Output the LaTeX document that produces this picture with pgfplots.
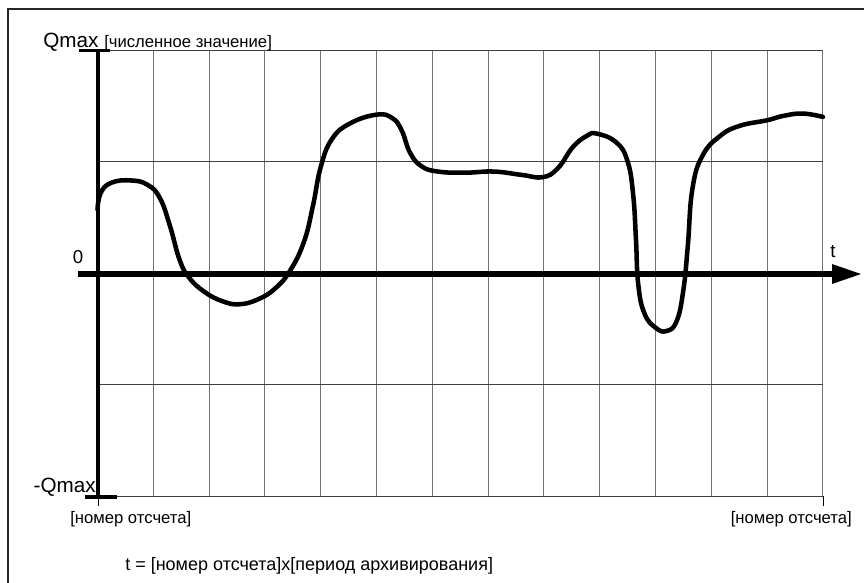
\documentclass[border=0pt]{standalone}
\usepackage{pgfplots}
\pgfplotsset{compat=1.18}
\usepackage{fontspec}
\setmainfont{Liberation Sans}
\begin{document}
\begin{tikzpicture}
\begin{scope}[x=0.75pt,y=-0.75pt]
\path[use as bounding box] (0,0) rectangle (864,582);
\draw[line width=1.5pt, black!85] (8,600) -- (8,9) -- (880,9);
\end{scope}
\begin{axis}[at={(73.125pt,-372pt)}, anchor=south west,
  x=41.85pt, y=83.625pt,
  xmin=0, xmax=13, ymin=-2, ymax=2,
  axis line style={draw=none},
  xtick=\empty, ytick=\empty,
  clip=false]
\pgfplotsinvokeforeach{1,...,13}{\draw[black!55, line width=0.75pt] (axis cs:#1,-2) -- (axis cs:#1,2);}
\pgfplotsinvokeforeach{-2,-1,1,2}{\draw[black!75, line width=0.75pt] (axis cs:0,#1) -- (axis cs:13,#1);}
\addplot[black, line width=3.4pt, smooth, tension=0.75, mark=none, line join=round, line cap=round] coordinates {
(0,0.57) (0.06,0.72) (0.25,0.81) (0.6,0.83) (0.9,0.79) (1.12,0.67) (1.30,0.42)
(1.47,0.12) (1.64,-0.04) (1.92,-0.17) (2.25,-0.255) (2.55,-0.28) (2.88,-0.235) (3.18,-0.14)
(3.45,0.02) (3.7,0.28) (3.86,0.6) (4.0,0.95) (4.2,1.2) (4.52,1.34)
(5.0,1.42) (5.28,1.39) (5.45,1.28) (5.6,1.08) (5.8,0.96) (6.1,0.91)
(6.6,0.90) (7.1,0.91) (7.6,0.88) (7.98,0.86) (8.25,0.94) (8.52,1.13) (8.77,1.23)
(8.95,1.25) (9.3,1.17) (9.5,1.0) (9.6,0.7) (9.65,0.3) (9.69,-0.1)
(9.80,-0.36) (10.0,-0.49) (10.2,-0.52) (10.38,-0.43) (10.5,-0.15) (10.58,0.25)
(10.66,0.75) (10.84,1.05) (11.16,1.23) (11.51,1.32) (12.0,1.37) (12.3,1.41)
(12.64,1.43) (13.0,1.40)
};
\end{axis}
\begin{scope}[x=0.75pt,y=-0.75pt]
% axes
\draw[line width=3.6pt] (98,51) -- (98,497);
\draw[line width=0.75pt] (98,497) -- (98,506);
\draw[line width=0.75pt] (823,496) -- (823,506);
\draw[line width=2.4pt] (79,50.5) -- (110,50.5);
\draw[line width=2.4pt] (85,497) -- (117,497);
\draw[line width=4.2pt] (78,274) -- (834,274);
\fill (832,264) -- (861,274) -- (832,284) -- cycle;
% labels
\node[anchor=base west, inner sep=0pt, font=\fontsize{15.5pt}{18pt}\selectfont] at (43,47) {Qmax};
\node[anchor=base west, inner sep=0pt, font=\fontsize{12.5pt}{15pt}\selectfont] at (104,47) {[численное значение]};
\node[anchor=base, inner sep=0pt, font=\fontsize{14pt}{16pt}\selectfont] at (78,263) {0};
\node[anchor=base, inner sep=0pt, font=\fontsize{14pt}{16pt}\selectfont] at (833,257) {t};
\node[anchor=base east, inner sep=0pt, font=\fontsize{15.5pt}{18pt}\selectfont] at (96,492) {-Qmax};
\node[anchor=base west, inner sep=0pt, font=\fontsize{12.5pt}{15pt}\selectfont] at (70,523) {[номер отсчета]};
\node[anchor=base east, inner sep=0pt, font=\fontsize{12.5pt}{15pt}\selectfont] at (852,523) {[номер отсчета]};
\node[anchor=base west, inner sep=0pt, font=\fontsize{13.5pt}{17pt}\selectfont] at (125,570) {t = [номер отсчета]x[период архивирования]};
\end{scope}
\end{tikzpicture}
\end{document}
